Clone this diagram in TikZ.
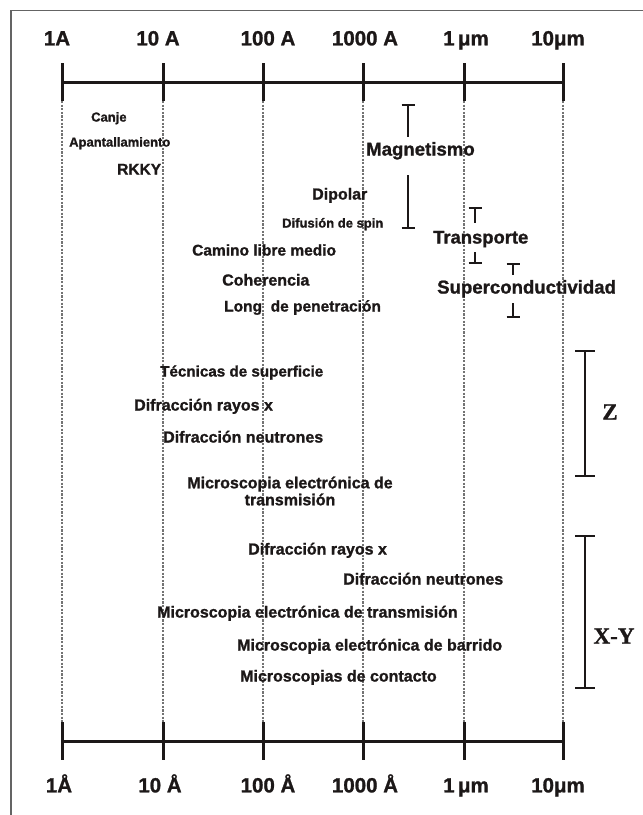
\documentclass[tikz,border=0pt]{standalone}
\usepackage{fontspec}
\setmainfont{Liberation Sans}[BoldFeatures={FakeBold=1.2}]
\newfontfamily\serifbold{Liberation Serif}[BoldFeatures={FakeBold=1}]
\definecolor{ink}{RGB}{28,24,24}
\definecolor{dotgray}{RGB}{115,115,115}
\definecolor{framegray}{RGB}{100,100,100}
\newcommand{\fs}[1]{\fontsize{#1}{#1}\selectfont}
\tikzset{
  txt/.style={inner sep=0pt, anchor=west, text=ink, text height=0.72em, text depth=0.21em, font=\bfseries\fs{#1}},
  axlbl/.style={inner sep=0pt, anchor=center, text=ink, text height=0.72em, text depth=0.05em, font=\bfseries\fs{20.5}},
  axisline/.style={draw=ink, line width=3pt},
  guide/.style={draw=dotgray, line width=2.7pt, dash pattern=on 2.2pt off 1.4pt},
  brk/.style={draw=ink, line width=2.8pt},
  dimlbl/.style={inner sep=0pt, anchor=center, text=ink, font=\serifbold\bfseries\fs{23}},
}
\begin{document}
\begin{tikzpicture}[x=1pt,y=-1pt]
\useasboundingbox (0,0) rectangle (643,815);
% frame (top and left visible)
\draw[framegray, line width=1.5pt] (11,815) -- (11,10.5) -- (643,10.5);
% tick coordinates
\foreach \n/\x in {a/62,b/163,c/263,d/363,e/464,f/563}{
  \coordinate (t\n) at (\x,82);
  \coordinate (t\n u) at (\x,63);
  \coordinate (t\n d) at (\x,101);
  \coordinate (b\n) at (\x,741);
  \coordinate (b\n u) at (\x,722);
  \coordinate (b\n d) at (\x,760);
}
% dotted guides
\foreach \n in {a,b,c,d,e,f}{
  \draw[guide] (t\n d) -- (b\n u);
}
% axes
\draw[axisline] (ta) -- (tf);
\draw[axisline] (ba) -- (bf);
\foreach \n in {a,b,c,d,e,f}{
  \draw[axisline] (t\n u) -- (t\n d);
  \draw[axisline] (b\n u) -- (b\n d);
}
% top labels
\node[axlbl] (la1) at (57,42) {1A};
\node[axlbl] (la2) at (158,42) {10 A};
\node[axlbl] (la3) at (268,42) {100 A};
\node[axlbl] (la4) at (365,42) {1000 A};
\node[axlbl] (la5) at (466,42) {1\,μm};
\node[axlbl] (la6) at (558,42) {10μm};
% bottom labels
\node[axlbl] (lb1) at (59,789) {1Å};
\node[axlbl] (lb2) at (160,789) {10 Å};
\node[axlbl] (lb3) at (268,789) {100 Å};
\node[axlbl] (lb4) at (365,789) {1000 Å};
\node[axlbl] (lb5) at (466,789) {1\,μm};
\node[axlbl] (lb6) at (558,789) {10μm};
% upper section
\node[txt=13] (canje) at (91,119) {Canje};
\node[txt=13] (apant) at (69,144) {Apantallamiento};
\node[txt=15.5] (rkky) at (117,172) {RKKY};
\node[txt=18.6] (magn) at (366,153) {Magnetismo};
\node[txt=16] (dipolar) at (312,197) {Dipolar};
\node[txt=13] (difspin) at (282,225) {Difusión de spin};
\node[txt=15.5] (camino) at (192,253) {Camino libre medio};
\node[txt=16] (coher) at (222,283) {Coherencia};
\node[txt=15.5] (longp) at (224,309) {Long\ \ de penetración};
\node[txt=18.4] (transp) at (433,241) {Transporte};
\node[txt=18.6] (superc) at (437,291) {Superconductividad};
% brackets upper
\draw[brk] (401.5,105) -- (414.5,105) (408,105) -- (408,137);
\draw[brk] (408,175) -- (408,228) (401.5,228) -- (414.5,228);
\draw[brk] (468.5,208) -- (481.5,208) (475,208) -- (475,223);
\draw[brk] (475,252) -- (475,263) (468.5,263) -- (481.5,263);
\draw[brk] (506.5,264) -- (519.5,264) (513,264) -- (513,275);
\draw[brk] (513,303) -- (513,317) (506.5,317) -- (519.5,317);
% middle section (Z)
\node[txt=15.2] (tecn) at (160,374) {Técnicas de superficie};
\node[txt=16] (drx1) at (134,408) {Difracción rayos x};
\node[txt=16] (dneu1) at (163,440) {Difracción neutrones};
\node[inner sep=0pt, anchor=center, text=ink, align=center, font=\bfseries\fontsize{16}{17}\selectfont] (met1) at (290,491) {Microscopia electrónica de\\transmisión};
% lower section (X-Y)
\node[txt=16] (drx2) at (248,552) {Difracción rayos x};
\node[txt=16] (dneu2) at (343,582) {Difracción neutrones};
\node[txt=16] (met2) at (157,615) {Microscopia electrónica de transmisión};
\node[txt=16] (meb) at (237,648) {Microscopia electrónica de barrido};
\node[txt=16] (mcont) at (240,679) {Microscopias de contacto};
% Z and X-Y brackets
\draw[brk] (575,351) -- (595,351) (585,351) -- (585,476) (575,476) -- (595,476);
\draw[brk] (575,536) -- (595,536) (585,536) -- (585,688) (575,688) -- (595,688);
\node[dimlbl] (zl) at (610,412) {Z};
\node[dimlbl] (xyl) at (614,636) {X-Y};
\end{tikzpicture}
\end{document}
